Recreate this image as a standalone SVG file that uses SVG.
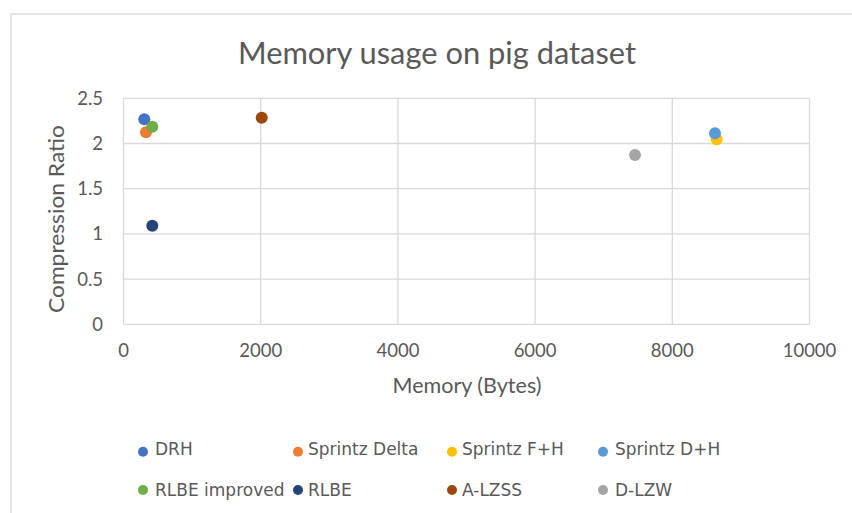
<svg xmlns="http://www.w3.org/2000/svg" width="852" height="513" viewBox="0 0 852 513">
  <style>
    .frame { fill: #ffffff; stroke: #d9d9d9; stroke-width: 1.3; }
    .grid { stroke: #d9d9d9; stroke-width: 1.3; fill: none; }
    .title { font-family: Lato, "Liberation Sans", sans-serif; font-size: 30px; fill: #595959; text-anchor: middle; }
    .tick { font-family: Lato, "Liberation Sans", sans-serif; font-size: 18.5px; fill: #595959; }
    .ytick { text-anchor: end; }
    .xtick { text-anchor: middle; }
    .axis-title { font-family: Lato, "Liberation Sans", sans-serif; font-size: 20.5px; fill: #595959; text-anchor: middle; }
    .legend { font-family: "DejaVu Sans", Verdana, sans-serif; font-size: 17px; fill: #595959; }
  </style>

  <!-- chart frame -->
  <rect class="frame" x="11" y="14" width="860" height="520"/>

  <!-- title -->
  <text class="title" x="437" y="64" textLength="398" lengthAdjust="spacingAndGlyphs">Memory usage on pig dataset</text>

  <!-- gridlines and axes -->
  <g id="grid">
    <path class="grid" d="M123.5 98.3H809.5 M123.5 143.5H809.5 M123.5 188.7H809.5 M123.5 233.9H809.5 M123.5 279.1H809.5 M123.5 324.3H809.5"/>
    <path class="grid" d="M123.5 98.3V324.3 M260.7 98.3V324.3 M397.9 98.3V324.3 M535.1 98.3V324.3 M672.3 98.3V324.3 M809.5 98.3V324.3"/>
  </g>

  <!-- y tick labels -->
  <g id="y-ticks" class="tick ytick">
    <text x="103" y="330.8">0</text>
    <text x="103" y="285.6">0.5</text>
    <text x="103" y="240.4">1</text>
    <text x="103" y="195.2">1.5</text>
    <text x="103" y="150">2</text>
    <text x="103" y="104.8">2.5</text>
  </g>

  <!-- x tick labels -->
  <g id="x-ticks" class="tick xtick">
    <text x="123.5" y="357">0</text>
    <text x="260.7" y="357">2000</text>
    <text x="397.9" y="357">4000</text>
    <text x="535.1" y="357">6000</text>
    <text x="672.3" y="357">8000</text>
    <text x="809.5" y="357">10000</text>
  </g>

  <!-- axis titles -->
  <text class="axis-title" x="467" y="393" textLength="149" lengthAdjust="spacingAndGlyphs">Memory (Bytes)</text>
  <text class="axis-title" transform="translate(64 219) rotate(-90)" x="0" y="0" textLength="188" lengthAdjust="spacingAndGlyphs">Compression Ratio</text>

  <!-- data series -->
  <g id="series">
    <circle id="pt-drh" cx="144.3" cy="119.3" r="6" fill="#4472c4"/>
    <circle id="pt-sprintz-delta" cx="146" cy="132.3" r="6" fill="#ed7d31"/>
    <circle id="pt-sprintz-fh" cx="716.7" cy="139.3" r="6" fill="#ffc000"/>
    <circle id="pt-sprintz-dh" cx="715" cy="133.3" r="6" fill="#5b9bd5"/>
    <circle id="pt-rlbe-improved" cx="152.3" cy="126.7" r="6" fill="#70ad47"/>
    <circle id="pt-rlbe" cx="152.3" cy="225.7" r="6" fill="#264478"/>
    <circle id="pt-a-lzss" cx="261.7" cy="117.7" r="6" fill="#9e480e"/>
    <circle id="pt-d-lzw" cx="635" cy="155" r="6" fill="#a5a5a5"/>
  </g>

  <!-- legend -->
  <g id="legend">
    <g id="legend-drh"><circle cx="143" cy="451.7" r="5" fill="#4472c4"/><text class="legend" x="155" y="455">DRH</text></g>
    <g id="legend-sprintz-delta"><circle cx="298" cy="451.7" r="5" fill="#ed7d31"/><text class="legend" x="308" y="455">Sprintz Delta</text></g>
    <g id="legend-sprintz-fh"><circle cx="452" cy="451.7" r="5" fill="#ffc000"/><text class="legend" x="462" y="455">Sprintz F+H</text></g>
    <g id="legend-sprintz-dh"><circle cx="603" cy="451.7" r="5" fill="#5b9bd5"/><text class="legend" x="615" y="455">Sprintz D+H</text></g>
    <g id="legend-rlbe-improved"><circle cx="143" cy="490" r="5" fill="#70ad47"/><text class="legend" x="155" y="496">RLBE improved</text></g>
    <g id="legend-rlbe"><circle cx="298" cy="490" r="5" fill="#264478"/><text class="legend" x="308" y="496">RLBE</text></g>
    <g id="legend-a-lzss"><circle cx="452" cy="490" r="5" fill="#9e480e"/><text class="legend" x="462" y="496">A-LZSS</text></g>
    <g id="legend-d-lzw"><circle cx="603" cy="490" r="5" fill="#a5a5a5"/><text class="legend" x="615" y="496">D-LZW</text></g>
  </g>
</svg>
